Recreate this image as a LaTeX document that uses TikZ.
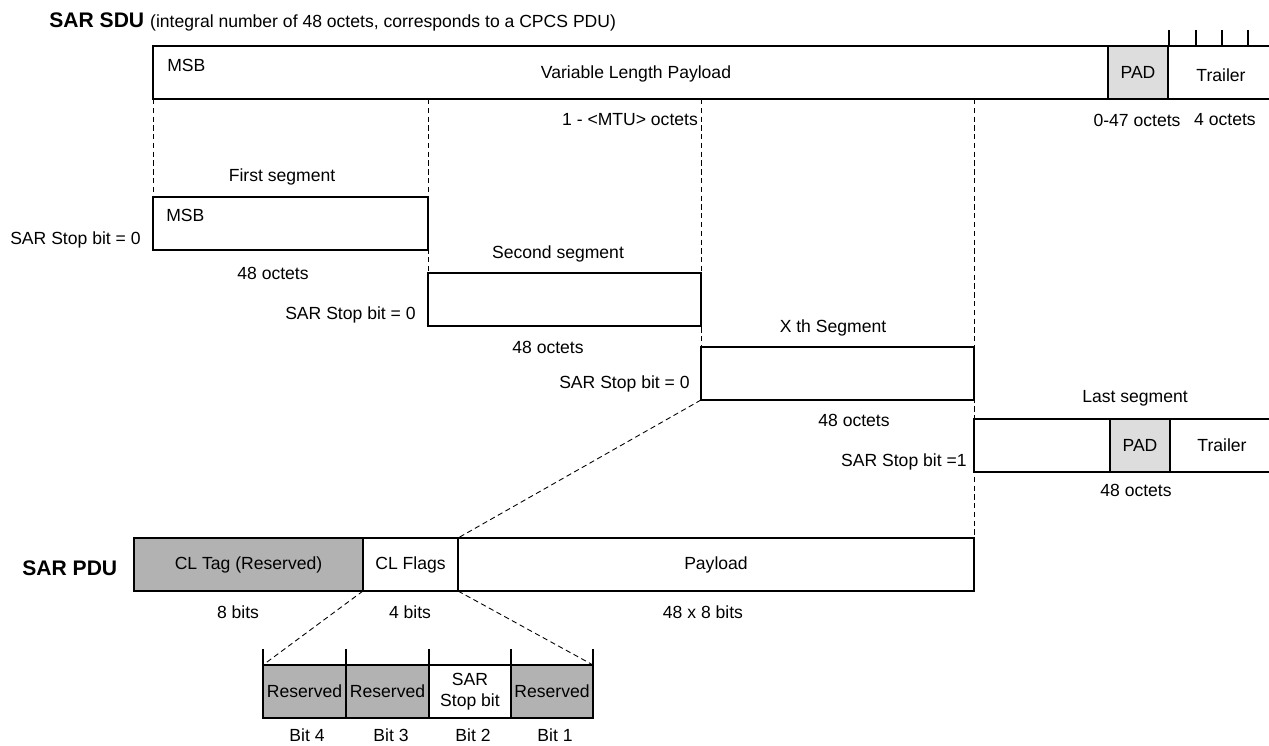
\documentclass[tikz,border=0pt]{standalone}
\usepackage{fontspec}
\setmainfont{Liberation Sans}
\usetikzlibrary{calc}
\usetikzlibrary{positioning}
\definecolor{resgray}{RGB}{178,178,178}
\definecolor{padgray}{RGB}{221,221,221}
\tikzset{
 field/.style={draw, line width=0.8pt, anchor=north west, inner sep=0pt, outer sep=0pt, minimum height=53*0.02cm},
 lbl/.style={inner sep=0pt},
 dashline/.style={dash pattern=on 3pt off 2pt, line width=0.5pt},
 heading/.style={font=\fontsize{12}{14}\selectfont\bfseries, inner sep=0pt, anchor=west}
}

\begin{document}
\begin{tikzpicture}[x=0.02cm, y=-0.02cm, font=\fontsize{10}{12}\selectfont]
\useasboundingbox (0,0) rectangle (1269,746);
\node[heading] (sdutitle) at (49,20) {SAR SDU};
\node[lbl, anchor=base west, xshift=3pt] (sdunote) at (sdutitle.base east) {(integral number of 48 octets, corresponds to a CPCS PDU)};
\node[field, minimum width=1130*0.02cm] (sdu) at (153,46) {};
\node[field, fill=padgray, minimum width=60*0.02cm] (sdupad) at (1108,46) {PAD};
\foreach \x in {1169,1196,1222,1248} {
 \draw[line width=0.6pt] (\x,30) -- (\x,46);
}
\node[lbl, anchor=west] (sdumsb) at (167,65) {MSB};
\node[lbl] (sdupay) at (636,74) {Variable Length Payload};
\node[lbl] (sdutrl) at (1221,75) {Trailer};
\node[lbl] (sdumtu) at (630,120) {1 - <MTU> octets};
\node[lbl] (padlen) at (1137,120) {0-47 octets};
\node[lbl] (trllen) at (1225,120) {4 octets};

\node[field, minimum width=275*0.02cm] (seg1) at (153,197) {};
\node[lbl] (seg1name) at (282,177) {First segment};
\node[lbl, anchor=west] (seg1msb) at (166,215) {MSB};
\node[lbl, anchor=east] (seg1stop) at (141,240) {SAR Stop bit = 0};
\node[lbl] (seg1len) at (273,273) {48 octets};

\node[field, minimum width=273*0.02cm] (seg2) at (428,273) {};
\node[lbl] (seg2name) at (558,254) {Second segment};
\node[lbl, anchor=east] (seg2stop) at (416,315) {SAR Stop bit = 0};
\node[lbl] (seg2len) at (548,347) {48 octets};

\node[field, minimum width=273*0.02cm] (segx) at (701,347) {};
\node[lbl] (segxname) at (833,328) {X th Segment};
\node[lbl, anchor=east] (segxstop) at (690,384) {SAR Stop bit = 0};
\node[lbl] (segxlen) at (854,420) {48 octets};

\node[field, minimum width=310*0.02cm] (segl) at (974,419) {};
\node[field, fill=padgray, minimum width=60*0.02cm] (seglpad) at (1110,419) {PAD};
\node[lbl] (segltrl) at (1222,445) {Trailer};
\node[lbl] (seglname) at (1135,398) {Last segment};
\node[lbl, anchor=east] (seglstop) at (967,462) {SAR Stop bit =1};
\node[lbl] (segllen) at (1136,490) {48 octets};

\node[heading] (pdutitle) at (22,568) {SAR PDU};
\node[field, fill=resgray, minimum width=229*0.02cm] (cltag) at (134,538) {CL Tag (Reserved)};
\node[field, minimum width=95*0.02cm] (clflags) at (363,538) {CL Flags};
\node[field, minimum width=516*0.02cm] (payload) at (458,538) {Payload};
\node[lbl] (taglen) at (238,612) {8 bits};
\node[lbl] (flagslen) at (410,612) {4 bits};
\node[lbl] (paylen) at (703,612) {48 x 8 bits};

\foreach \n/\x/\w/\f/\t in {4/263/83/resgray/Reserved, 3/346/83/resgray/Reserved, 2/429/82/white/{SAR\\Stop bit}, 1/511/82/resgray/Reserved} {
 \node[field, fill=\f, align=center, minimum width=\w*0.02cm] (bit\n) at (\x,665) {\t};
}
\foreach \x in {263,346,429,511,593} {
 \draw[line width=0.6pt] (\x,649) -- (\x,665);
}
\foreach \n/\x in {4/307,3/391,2/473,1/555} {
 \node[lbl] (bitlbl\n) at (\x,735) {Bit \n};
}

\draw[dashline] (sdu.south west) -- (seg1.north west);
\draw[dashline] (seg2.north west |- sdu.south) -- (seg2.north west);
\draw[dashline] (segx.north west |- sdu.south) -- (segx.north west);
\draw[dashline] (payload.north east |- sdu.south) -- (payload.north east);
\draw[dashline] (segx.south west) -- (payload.north west);
\draw[dashline] (clflags.south west) -- (bit4.north west);
\draw[dashline] (clflags.south east) -- (bit1.north east);
\end{tikzpicture}
\end{document}
